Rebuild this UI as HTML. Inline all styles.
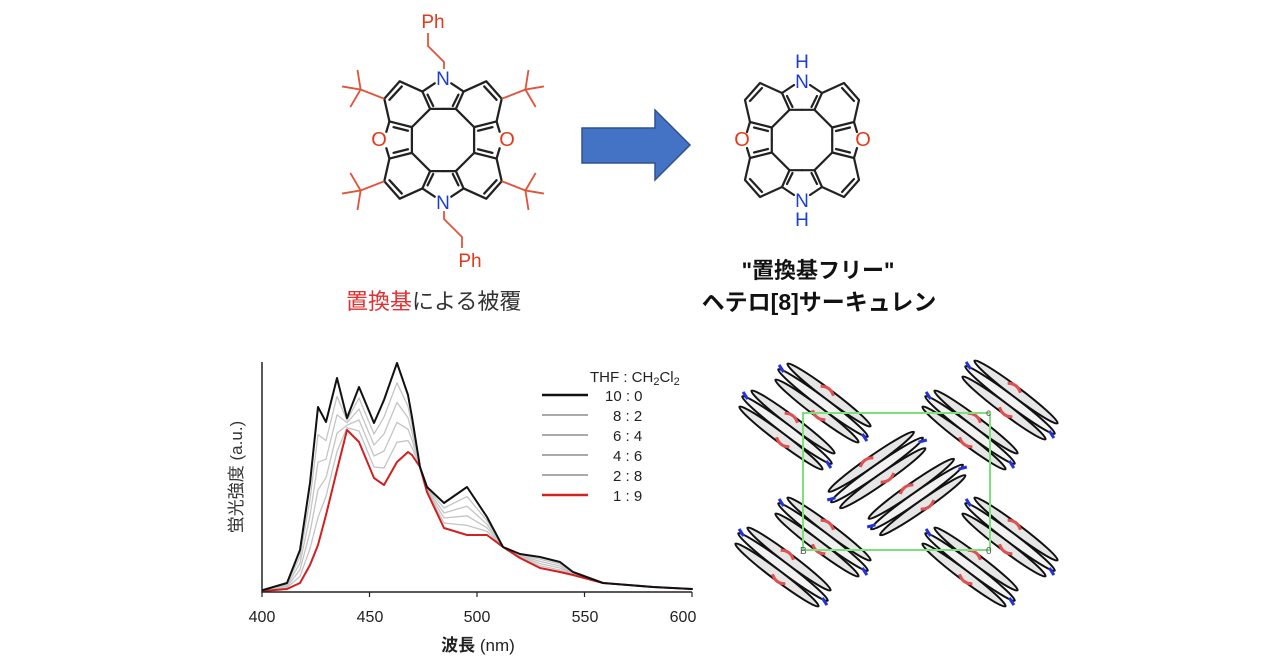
<!DOCTYPE html>
<html><head><meta charset="utf-8"><style>
html,body{margin:0;padding:0;background:#fff;}
svg{display:block;font-family:"Liberation Sans","Noto Sans CJK JP",sans-serif;}
</style></head><body>
<svg width="1280" height="670" viewBox="0 0 1280 670" xmlns="http://www.w3.org/2000/svg">
<defs>
<g id="q" fill="none" stroke="#222" stroke-width="2.2" stroke-linecap="round" stroke-linejoin="round">
<path d="M0,-30.2 L-12.5,-30.2 L-30.2,-12.5 L-30.2,0"/>
<path d="M-12.5,-30.2 L-20,-47 L-8,-55"/>
<path d="M-20,-47 L-42,-57 L-57,-40 L-52,-18 L-30.2,-12.5"/>
<path d="M-52,-18 L-55,-8"/>
<path d="M-40,-52 L-52,-39"/>
<path d="M-15,-44 L-9.5,-33"/>
<path d="M-34,-9 L-48,-12.5"/>
</g>
<g id="tb" fill="none" stroke="#e0553a" stroke-width="1.8">
<path d="M-57,-40 L-80,-49 M-80,-49 L-98,-52 M-80,-49 L-83,-68 M-80,-49 L-90,-32"/>
</g>
<g id="m">
<ellipse cx="0" cy="-10" rx="52" ry="5" fill="#e6e6e6" stroke="#111" stroke-width="2"/>
<ellipse cx="0" cy="0" rx="56" ry="5" fill="#f2f2f2" stroke="#111" stroke-width="2"/>
<ellipse cx="0" cy="10" rx="52" ry="5" fill="#e6e6e6" stroke="#111" stroke-width="2"/>
<path d="M-12,-12 q8,-6 16,0 M-4,12 q8,6 16,0" fill="none" stroke="#e05050" stroke-width="3"/>
<path d="M-58,-4 L-50,-1 M58,4 L50,1" stroke="#2233dd" stroke-width="3"/>
</g>
</defs>

<g transform="translate(443,140) scale(1.03)">
<use href="#q"/><use href="#q" transform="scale(-1,1)"/><use href="#q" transform="scale(1,-1)"/><use href="#q" transform="scale(-1,-1)"/>
<use href="#tb"/><use href="#tb" transform="scale(-1,1)"/><use href="#tb" transform="scale(1,-1)"/><use href="#tb" transform="scale(-1,-1)"/>
</g>
<g fill="none" stroke="#e0553a" stroke-width="1.8">
<path d="M444,69 L444,62 L428,46 L428,33"/>
<path d="M444,211 L444,219 L462,237 L462,248"/>
</g>
<g font-size="19" text-anchor="middle">
<text x="443" y="85" fill="#1a3fd0">N</text>
<text x="443" y="209" fill="#1a3fd0">N</text>
<text x="379" y="146" fill="#e03a1a" font-size="20">O</text>
<text x="507" y="146" fill="#e03a1a" font-size="20">O</text>
<text x="433" y="28" fill="#e03a1a">Ph</text>
<text x="470" y="267" fill="#e03a1a">Ph</text>
</g>

<path d="M582,128 L655,128 L655,110 L690,145 L655,180 L655,163 L582,163 Z" fill="#4472c4" stroke="#2f528f" stroke-width="1.5"/>

<g transform="translate(802,140)">
<use href="#q"/><use href="#q" transform="scale(-1,1)"/><use href="#q" transform="scale(1,-1)"/><use href="#q" transform="scale(-1,-1)"/>
</g>
<g font-size="19" text-anchor="middle" fill="#1a3fd0">
<text x="802" y="68">H</text>
<text x="802" y="88">N</text>
<text x="802" y="207">N</text>
<text x="802" y="226">H</text>
<text x="742" y="146" fill="#e03a1a" font-size="20">O</text>
<text x="863" y="146" fill="#e03a1a" font-size="20">O</text>
</g>

<text x="346" y="309" font-size="22" fill="#333"><tspan fill="#e03030">置換基</tspan>による被覆</text>
<text x="818" y="278" font-size="22" font-weight="bold" text-anchor="middle" fill="#111">"置換基フリー"</text>
<text x="819" y="310" font-size="23" font-weight="bold" text-anchor="middle" fill="#111">ヘテロ[8]サーキュレン</text>

<g fill="none" stroke-linejoin="round" stroke-linecap="round">
<polyline stroke="#c4c4c4" stroke-width="1.3" points="263,590.2 287,584.2 300,556.6 310,499.4 318,434.6 326,440.6 337,396.4 347,420.4 359,398 374,434 384,417 397,382.8 408,406.4 412,424.6 420,467 427,488 444,508 467,496.6 487,520.6 503,547 520,554.8 540,559.2 560,564 573,572.6 603,583 653,587 692,589"/>
<polyline stroke="#c4c4c4" stroke-width="1.3" points="263,590.4 287,585.4 300,563.2 310,515.8 318,462.2 326,459.2 337,414.8 347,422.8 359,409 374,445 384,434 397,402.4 408,417.8 412,432.2 420,467 427,489 444,513 467,506.2 487,524.2 503,547 520,555.6 540,561.4 560,566 573,573.2 603,583 653,587 692,589"/>
<polyline stroke="#c4c4c4" stroke-width="1.3" points="263,590.6 287,586.6 300,569.8 310,532.2 318,489.8 326,477.8 337,433.2 347,425.2 359,420 374,456 384,451 397,422.4 408,429.2 412,439.8 420,467 427,490 444,518 467,515.8 487,527.8 503,547 520,556.4 540,563.6 560,568 573,573.8 603,583 653,587 692,589"/>
<polyline stroke="#c4c4c4" stroke-width="1.3" points="263,590.8 287,587.8 300,576.4 310,548.6 318,517.4 326,496.4 337,451.6 347,427.6 359,431 374,467 384,468 397,442.2 408,440.6 412,447.4 420,467 427,491 444,523 467,525.4 487,531.4 503,547 520,557.2 540,565.8 560,570 573,574.4 603,583 653,587 692,589"/>
<polyline stroke="#d02020" stroke-width="2" points="263,591 287,589 300,583 310,565 318,545 326,515 337,470 347,430 359,442 374,478 384,485 397,462 408,452 412,455 420,467 427,492 444,528 467,535 487,535 503,547 520,558 540,568 560,572 573,575 603,583 653,587 692,589"/>
<polyline stroke="#111" stroke-width="2" points="263,590 287,583 300,550 310,483 318,407 326,422 337,378 347,418 359,387 374,423 384,400 397,363 408,395 412,417 420,467 427,487 444,503 467,487 487,517 503,547 520,554 540,557 560,562 573,572 603,583 653,587 692,589"/>
</g>
<path d="M262,362 L262,592 L692,592" fill="none" stroke="#222" stroke-width="1.5"/>
<g stroke="#222" stroke-width="1.2">
<path d="M262,592v5M369.5,592v5M477,592v5M584.5,592v5M692,592v5"/>
</g>
<g font-size="16" fill="#222" text-anchor="middle">
<text x="262" y="622">400</text><text x="370" y="622">450</text><text x="477" y="622">500</text><text x="585" y="622">550</text><text x="683" y="622">600</text>
</g>
<text x="478" y="651" font-size="17" text-anchor="middle" fill="#222"><tspan font-weight="bold">波長</tspan> (nm)</text>
<text transform="translate(242,477) rotate(-90)" font-size="17" text-anchor="middle" fill="#333">蛍光強度 (a.u.)</text>
<g font-size="15" fill="#222">
<text x="590" y="382">THF : CH<tspan font-size="11" dy="3">2</tspan><tspan dy="-3">Cl</tspan><tspan font-size="11" dy="3">2</tspan></text>
<text x="605" y="401">10 : 0</text>
<text x="613" y="421">8 : 2</text>
<text x="613" y="441">6 : 4</text>
<text x="613" y="461">4 : 6</text>
<text x="613" y="481">2 : 8</text>
<text x="613" y="501">1 : 9</text>
</g>
<g stroke-width="2">
<path d="M542,395h46" stroke="#111" stroke-width="2.5"/>
<path d="M542,415h46" stroke="#aaa"/>
<path d="M542,435h46" stroke="#aaa"/>
<path d="M542,455h46" stroke="#aaa"/>
<path d="M542,475h46" stroke="#aaa"/>
<path d="M542,495h46" stroke="#d02020" stroke-width="2.5"/>
</g>

<g>
<use href="#m" transform="translate(823,403) rotate(37)"/>
<use href="#m" transform="translate(787,430) rotate(37)"/>
<use href="#m" transform="translate(1010,400) rotate(37)"/>
<use href="#m" transform="translate(970,430) rotate(37)"/>
<use href="#m" transform="translate(823,537) rotate(37)"/>
<use href="#m" transform="translate(783,567) rotate(37)"/>
<use href="#m" transform="translate(1010,537) rotate(37)"/>
<use href="#m" transform="translate(970,567) rotate(37)"/>
<use href="#m" transform="translate(877,470) rotate(-35)"/>
<use href="#m" transform="translate(917,497) rotate(-35)"/>
<rect x="803" y="413" width="187" height="137" fill="none" stroke="#7de07d" stroke-width="2"/>
<g font-size="10" fill="#555"><text x="986" y="416">c</text><text x="800" y="554">B</text><text x="986" y="554">0</text></g>
</g>
</svg>
</body></html>
